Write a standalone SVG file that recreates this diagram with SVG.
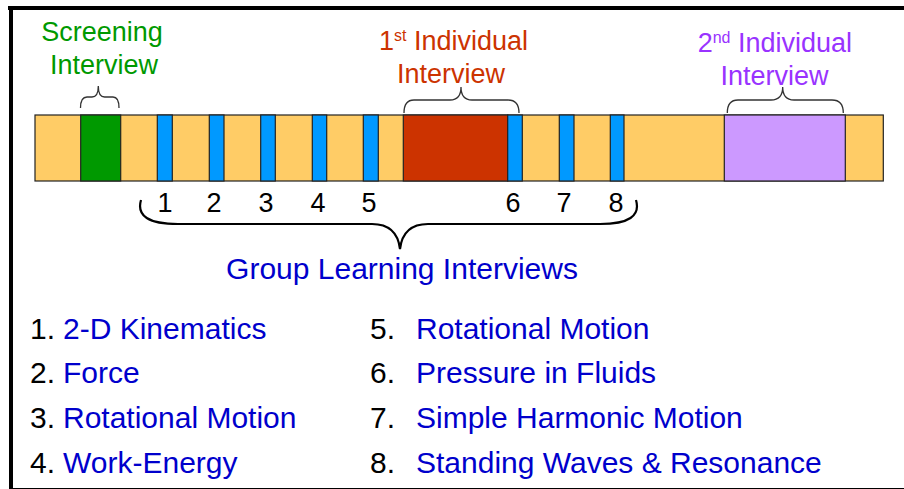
<svg xmlns="http://www.w3.org/2000/svg" width="904" height="489" viewBox="0 0 904 489">
<style>
text{font-family:"Liberation Sans",Arial,sans-serif}
.seg{stroke:#222;stroke-width:1.2}
.tan{fill:#ffcc66}
.blue{fill:#0099ff}
.brace{fill:none;stroke:#333;stroke-width:1.3}
.num{font-size:27px;fill:#000;text-anchor:middle}
.li{font-size:30px;fill:#000}
.lb{fill:#0000cc}
.lbl{font-size:27px;text-anchor:middle}
</style>
<rect x="0" y="0" width="904" height="489" fill="#fff"/>
<g id="frame">
<rect x="8" y="6" width="896" height="4" fill="#000"/>
<rect x="9" y="6" width="4" height="483" fill="#000"/>
<line x1="9" y1="488.5" x2="904" y2="488.5" stroke="#000" stroke-width="1"/>
</g>
<g id="timeline">
<rect class="seg tan" x="35" y="115" width="848.3" height="66"/>
<g id="screening-block"><rect class="seg" x="80.7" y="115" width="40" height="66" fill="#009900"/></g>
<g id="glw1"><rect class="seg blue" x="157.3" y="115" width="15" height="66"/></g>
<g id="glw2"><rect class="seg blue" x="209.3" y="115" width="14.7" height="66"/></g>
<g id="glw3"><rect class="seg blue" x="260.7" y="115" width="14.6" height="66"/></g>
<g id="glw4"><rect class="seg blue" x="312.3" y="115" width="14.4" height="66"/></g>
<g id="glw5"><rect class="seg blue" x="363.3" y="115" width="15" height="66"/></g>
<g id="individual1-block"><rect class="seg" x="403.3" y="115" width="104.4" height="66" fill="#cc3300"/></g>
<g id="glw6"><rect class="seg blue" x="507.7" y="115" width="14.6" height="66"/></g>
<g id="glw7"><rect class="seg blue" x="559.3" y="115" width="14.7" height="66"/></g>
<g id="glw8"><rect class="seg blue" x="610.3" y="115" width="13.7" height="66"/></g>
<g id="individual2-block"><rect class="seg" x="724.3" y="115" width="121" height="66" fill="#cc99ff"/></g>
</g>
<g id="connectors">
<path class="brace" d="M80.5,108 Q80.5,97 87,97 L92,97 Q98.3,97 98.3,86 Q98.3,97 104.6,97 L113,97 Q119,97 119,108"/>
<path class="brace" d="M404,113 Q404,100 414,100 L450,100 Q461,100 461,87 Q461,100 472,100 L508,100 Q519,100 519,113"/>
<path class="brace" d="M727.3,113 Q727.3,100 738,100 L771,100 Q782.7,100 782.7,87 Q782.7,100 794,100 L832,100 Q843.3,100 843.3,113"/>
<path d="M141,200 Q134,224 178,224 L372,224 Q397,224 400,249 Q403,224 428,224 L600,224 Q643,224 636,200" fill="none" stroke="#000" stroke-width="2.2"/>
</g>
<g id="label-screening">
<text class="lbl" x="102" y="41" fill="#009900">Screening</text>
<text class="lbl" x="104" y="74" fill="#009900">Interview</text>
</g>
<g id="label-individual1">
<text x="379" y="50" font-size="27" fill="#cc3300">1<tspan font-size="16" dy="-9">st</tspan><tspan dy="9"> Individual</tspan></text>
<text class="lbl" x="451" y="83" fill="#cc3300">Interview</text>
</g>
<g id="label-individual2">
<text x="697.7" y="52.3" font-size="27" fill="#9933ff">2<tspan font-size="16" dy="-9">nd</tspan><tspan dy="9"> Individual</tspan></text>
<text class="lbl" x="774.5" y="85" fill="#9933ff">Interview</text>
</g>
<g id="numbers">
<text class="num" x="165" y="212">1</text>
<text class="num" x="214" y="212">2</text>
<text class="num" x="266" y="212">3</text>
<text class="num" x="318" y="212">4</text>
<text class="num" x="369" y="212">5</text>
<text class="num" x="513" y="212">6</text>
<text class="num" x="564" y="212">7</text>
<text class="num" x="616" y="212">8</text>
</g>
<g id="label-group">
<text x="402" y="279" font-size="30" fill="#0000cc" text-anchor="middle">Group Learning Interviews</text>
</g>
<g id="legend">
<text class="li" x="30" y="339">1.</text><text class="li lb" x="63" y="339">2-D Kinematics</text>
<text class="li" x="30" y="383">2.</text><text class="li lb" x="63" y="383">Force</text>
<text class="li" x="30" y="428">3.</text><text class="li lb" x="63" y="428">Rotational Motion</text>
<text class="li" x="30" y="473">4.</text><text class="li lb" x="63" y="473">Work-Energy</text>
<text class="li" x="370" y="339">5.</text><text class="li lb" x="416" y="339">Rotational Motion</text>
<text class="li" x="370" y="383">6.</text><text class="li lb" x="416" y="383">Pressure in Fluids</text>
<text class="li" x="370" y="428">7.</text><text class="li lb" x="416" y="428">Simple Harmonic Motion</text>
<text class="li" x="370" y="473">8.</text><text class="li lb" x="416" y="473">Standing Waves &amp; Resonance</text>
</g>
</svg>
